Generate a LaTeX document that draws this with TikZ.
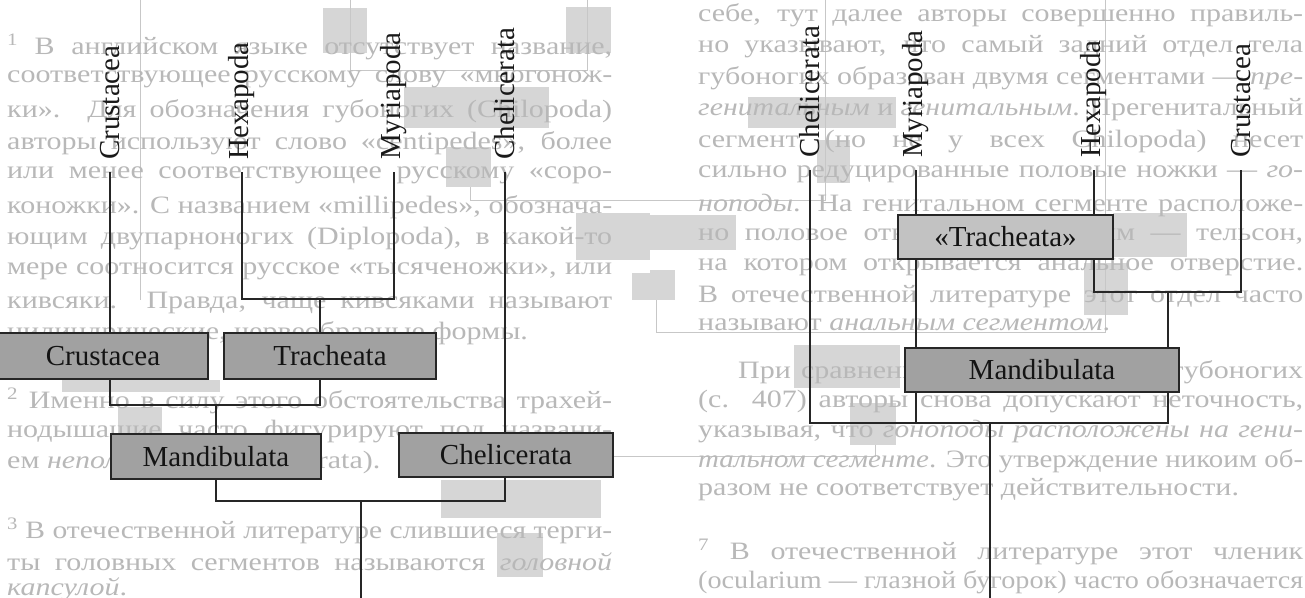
\documentclass[tikz,border=0pt]{standalone}
\usepackage{graphicx}
\usepackage{fontspec}
\setmainfont{Liberation Serif}
\newfontfamily\pagefont[FakeStretch=1.2]{Liberation Serif}
% a justified line of the column: spaces stretch, or letters squeeze if it is too long
\newsavebox\columnline
\newcommand\jline[1]{\sbox\columnline{#1}%
  \ifdim\wd\columnline>605pt\resizebox{605pt}{\ht\columnline}{\usebox\columnline}%
  \else\makebox[605pt][s]{#1}\fi}
\begin{document}
\begin{tikzpicture}[x=1pt,y=-1pt,
  taxon/.style={font=\fontsize{29}{30}\selectfont, rotate=90, anchor=west, inner sep=0pt, text=black!90},
  clade/.style={draw=black!85, line width=1.6pt, fill=black!37, font=\fontsize{29}{30}\selectfont, inner sep=0pt, text=black!92},
  branch/.style={draw=black!85, line width=1.6pt},
  ghost/.style={fill=black!16},
  ghostline/.style={draw=black!22, line width=0.9pt},
  bleed/.style={text=black!28, font=\pagefont\fontsize{25}{28}\selectfont, anchor=west, inner sep=0pt},
]
\useasboundingbox (0,0) rectangle (1305,597);
\clip (0,0) rectangle (1305,597);
\fill[white] (0,0) rectangle (1305,597);

% ---- show-through from the reverse side of the page ----
\foreach \x/\y/\w/\h in {323/8/44/45, 566/7/45/46, 404/87/145/41, 446/147/45/40,
  576/213/74/47, 632/273/18/27, 748/97/148/31, 817/140/33/43, 650/215/86/35,
  650/270/25/30, 1113/213/74/44, 1084/263/44/52, 794/345/106/43, 850/403/46/42,
  62/380/158/12, 118/407/44/30, 441/480/160/38, 497/533/46/44}
  \fill[ghost] (\x,\y) rectangle ++(\w,\h);
\draw[ghostline] (140,0) -- (140,300);
\draw[ghostline] (350,0) -- (350,70) -- (587,70) -- (587,0);
\draw[ghostline] (470,187) -- (470,200) -- (825,200) -- (825,0);
\draw[ghostline] (1105,0) -- (1105,332) -- (656,332) -- (656,300);
\draw[ghostline] (609,456) -- (875,456) -- (875,445);

% left column of footnotes
\node[bleed] at (7,47)  {\jline{\textsuperscript{1}\ В английском языке отсутствует название,}};
\node[bleed] at (7,79)  {\jline{соответствующее русскому слову «многонож-}};
\node[bleed] at (7,111) {\jline{ки». Для обозначения губоногих (Chilopoda)}};
\node[bleed] at (7,143) {\jline{авторы используют слово «centipedes», более}};
\node[bleed] at (7,175) {\jline{или менее соответствующее русскому «соро-}};
\node[bleed] at (7,207) {\jline{коножки». С названием «millipedes», обознача-}};
\node[bleed] at (7,239) {\jline{ющим двупарноногих (Diplopoda), в какой-то}};
\node[bleed] at (7,271) {\jline{мере соотносится русское «тысяченожки», или}};
\node[bleed] at (7,303) {\jline{кивсяки. Правда, чаще кивсяками называют}};
\node[bleed] at (7,333) {цилиндрические, червеобразные формы.};
\node[bleed] at (7,401) {\jline{\textsuperscript{2}\ Именно в силу этого обстоятельства трахей-}};
\node[bleed] at (7,432) {\jline{нодышащие часто фигурируют под названи-}};
\node[bleed] at (7,463) {ем \textit{неполноусые} (Atelocerata).};
\node[bleed] at (7,531) {\jline{\textsuperscript{3}\ В отечественной литературе слившиеся терги-}};
\node[bleed] at (7,562) {\jline{ты головных сегментов называются \textit{головной}}};
\node[bleed] at (7,589) {\textit{капсулой}.};

% right column of text
\node[bleed] at (698,15)  {\jline{себе, тут далее авторы совершенно правиль-}};
\node[bleed] at (698,47)  {\jline{но указывают, что самый задний отдел тела}};
\node[bleed] at (698,78)  {\jline{губоногих образован двумя сегментами — \textit{пре-}}};
\node[bleed] at (698,110) {\jline{\textit{генитальным} и \textit{генитальным}. Прегенитальный}};
\node[bleed] at (698,142) {\jline{сегмент (но не у всех Chilopoda) несет}};
\node[bleed] at (698,174) {\jline{сильно редуцированные половые ножки — \textit{го-}}};
\node[bleed] at (698,205) {\jline{\textit{ноподы}. На генитальном сегменте расположе-}};
\node[bleed] at (698,237) {\jline{но половое отверстие, а за ним — тельсон,}};
\node[bleed] at (698,267) {\jline{на котором открывается анальное отверстие.}};
\node[bleed] at (698,297) {\jline{В отечественной литературе этот отдел часто}};
\node[bleed] at (698,325) {называют \textit{анальным сегментом}.};
\node[bleed] at (698,372) {\jline{\hspace{40pt}При сравнении строения головы губоногих}};
\node[bleed] at (698,402) {\jline{(с. 407) авторы снова допускают неточность,}};
\node[bleed] at (698,432) {\jline{указывая, что \textit{гоноподы расположены на гени-}}};
\node[bleed] at (698,461) {\jline{\textit{тальном сегменте}. Это утверждение никоим об-}};
\node[bleed] at (698,490) {разом не соответствует действительности.};
\node[bleed] at (698,552) {\jline{\textsuperscript{7}\ В отечественной литературе этот членик}};
\node[bleed] at (698,582) {\jline{(ocularium — глазной бугорок) часто обозначается}};

% ---- left tree ----
\node[taxon] (crL) at (110,160) {Crustacea};
\node[taxon] (hxL) at (242,160) {Hexapoda};
\node[taxon] (myL) at (394,160) {Myriapoda};
\node[taxon] (chL) at (505,160) {Chelicerata};
\coordinate (tcrL) at (110,172);
\coordinate (thxL) at (242,172);
\coordinate (tmyL) at (394,172);
\coordinate (tchL) at (505,172);

\node[clade, minimum width=210pt, minimum height=46pt] (crusL)  at (103,356) {Crustacea};
\node[clade, minimum width=212pt, minimum height=46pt] (trachL) at (330,356) {Tracheata};
\node[clade, minimum width=210pt, minimum height=45pt] (mandL)  at (216,456.5) {Mandibulata};
\node[clade, minimum width=214pt, minimum height=44pt] (chelL)  at (506,455) {Chelicerata};

\coordinate (jHM)   at (320,299);
\coordinate (jCT)   at (216,405);
\coordinate (rootL) at (361,501);
\coordinate (baseL) at (361,600);

\draw[branch] (thxL) |- (jHM) -| (tmyL);
\draw[branch] (jHM) -- (jHM |- trachL.north);
\draw[branch] (tcrL) -- (tcrL |- crusL.north);
\draw[branch] (tcrL |- crusL.south) |- (jCT) -| (jHM |- trachL.south);
\draw[branch] (jCT) -- (mandL.north);
\draw[branch] (tchL) -- (tchL |- chelL.north);
\draw[branch] (mandL.south) |- (rootL) -| (tchL |- chelL.south);
\draw[branch] (rootL) -- (baseL);

% ---- right tree ----
\node[taxon] (chR) at (810,158) {Chelicerata};
\node[taxon] (myR) at (916,158) {Myriapoda};
\node[taxon] (hxR) at (1094,158) {Hexapoda};
\node[taxon] (crR) at (1241,158) {Crustacea};
\coordinate (tchR) at (810,170);
\coordinate (tmyR) at (916,170);
\coordinate (thxR) at (1094,170);
\coordinate (tcrR) at (1241,170);

\coordinate (jHC)   at (1168,292);
\coordinate (rootR) at (990,423);
\coordinate (baseR) at (990,600);

\draw[branch] (thxR) |- (jHC) -| (tcrR);
\draw[branch] (tchR) |- (rootR) -| (jHC);
\draw[branch] (tmyR) -- (tmyR |- rootR);
\draw[branch] (rootR) -- (baseR);

\node[clade, fill=black!24, minimum width=215pt, minimum height=44pt] (trachR) at (1005.5,237) {«Tracheata»};
\node[clade, minimum width=274pt, minimum height=44pt] (mandR) at (1042,370) {Mandibulata};
\end{tikzpicture}
\end{document}
